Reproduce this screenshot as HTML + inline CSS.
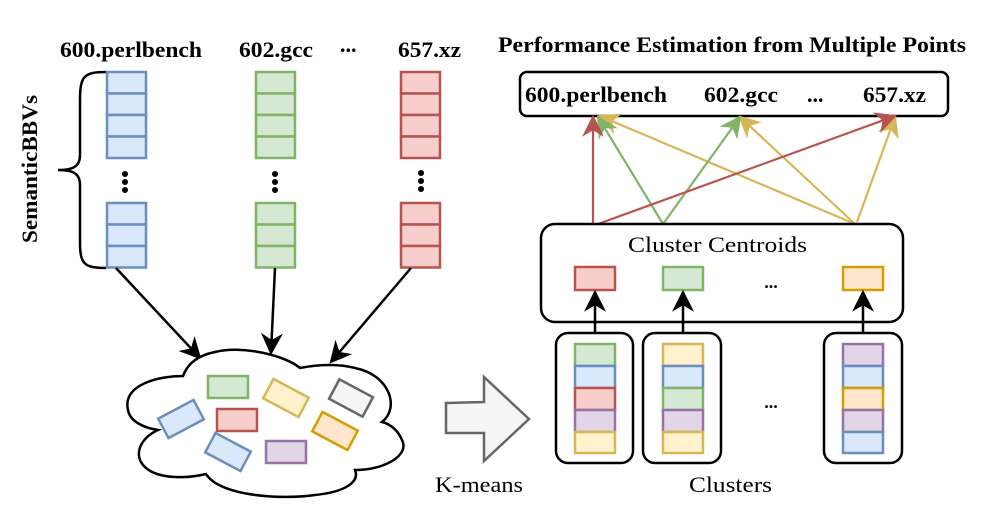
<!DOCTYPE html>
<html><head><meta charset="utf-8"><style>
html,body{margin:0;padding:0;background:#fff}
svg{display:block}
text{font-family:"Liberation Serif",serif;fill:#000}
.b{font-weight:bold;font-size:22px}
</style></head><body>
<svg width="996" height="516" viewBox="0 0 996 516" xmlns="http://www.w3.org/2000/svg">
<defs>
<marker id="akb" viewBox="0 0 10 10" markerWidth="22" markerHeight="22" refX="9" refY="5" orient="auto" markerUnits="userSpaceOnUse"><path d="M0,0 L10,5 L0,10 L3,5Z" fill="#000"/></marker>
<marker id="ar" viewBox="0 0 10 10" markerWidth="22" markerHeight="22" refX="9" refY="5" orient="auto" markerUnits="userSpaceOnUse"><path d="M0,0 L10,5 L0,10 L3,5Z" fill="#b85450"/></marker>
<marker id="ag" viewBox="0 0 10 10" markerWidth="22" markerHeight="22" refX="9" refY="5" orient="auto" markerUnits="userSpaceOnUse"><path d="M0,0 L10,5 L0,10 L3,5Z" fill="#82b366"/></marker>
<marker id="ay" viewBox="0 0 10 10" markerWidth="22" markerHeight="22" refX="9" refY="5" orient="auto" markerUnits="userSpaceOnUse"><path d="M0,0 L10,5 L0,10 L3,5Z" fill="#d6b656"/></marker>
</defs>

<!-- left labels -->
<text x="60" y="57" class="b" textLength="142" lengthAdjust="spacingAndGlyphs">600.perlbench</text>
<text x="239" y="57" class="b" textLength="74" lengthAdjust="spacingAndGlyphs">602.gcc</text>
<text x="340" y="52" class="b">...</text>
<text x="398" y="57" class="b" textLength="63" lengthAdjust="spacingAndGlyphs">657.xz</text>
<text transform="translate(37,169) rotate(-90)" text-anchor="middle" style="font-weight:bold;font-size:22px" textLength="148" lengthAdjust="spacingAndGlyphs">SemanticBBVs</text>
<path d="M106,72 C84,72 80,76 80,100 L80,155 C80,166 74,170 58,170 C74,170 80,174 80,185 L80,242 C80,264 84,268 106,268" fill="none" stroke="#000" stroke-width="2.5"/>

<g stroke-width="2.5">
<g fill="#dae8fc" stroke="#6c8ebf">
<rect x="107" y="72" width="39" height="21.5"/><rect x="107" y="93.5" width="39" height="21.5"/><rect x="107" y="115" width="39" height="21.5"/><rect x="107" y="136.5" width="39" height="21.5"/>
<rect x="107" y="203" width="39" height="21.5"/><rect x="107" y="224.5" width="39" height="21.5"/><rect x="107" y="246" width="39" height="21.5"/>
</g>
<g fill="#d5e8d4" stroke="#82b366">
<rect x="256" y="72" width="39" height="21.5"/><rect x="256" y="93.5" width="39" height="21.5"/><rect x="256" y="115" width="39" height="21.5"/><rect x="256" y="136.5" width="39" height="21.5"/>
<rect x="256" y="203" width="39" height="21.5"/><rect x="256" y="224.5" width="39" height="21.5"/><rect x="256" y="246" width="39" height="21.5"/>
</g>
<g fill="#f8cecc" stroke="#b85450">
<rect x="401" y="72" width="39" height="21.5"/><rect x="401" y="93.5" width="39" height="21.5"/><rect x="401" y="115" width="39" height="21.5"/><rect x="401" y="136.5" width="39" height="21.5"/>
<rect x="401" y="203" width="39" height="21.5"/><rect x="401" y="224.5" width="39" height="21.5"/><rect x="401" y="246" width="39" height="21.5"/>
</g>
</g>
<g fill="#000">
<circle cx="125" cy="174" r="3"/><circle cx="125" cy="182" r="3"/><circle cx="125" cy="190" r="3"/>
<circle cx="275" cy="174" r="3"/><circle cx="275" cy="182" r="3"/><circle cx="275" cy="190" r="3"/>
<circle cx="421" cy="173" r="3"/><circle cx="421" cy="181" r="3"/><circle cx="421" cy="189" r="3"/>
</g>

<g stroke="#000" stroke-width="2.5">
<line x1="116" y1="268" x2="200" y2="358" marker-end="url(#akb)"/>
<line x1="275" y1="268" x2="271" y2="353" marker-end="url(#akb)"/>
<line x1="411" y1="268" x2="331" y2="362" marker-end="url(#akb)"/>
</g>

<path d="M183,376 C160,376 122,384 128,410 C130,422 145,428 158,430 C140,438 132,456 146,468 C160,480 190,478 206,474 C220,496 280,500 315,495 C345,492 360,482 355,470 C385,470 410,455 402,440 C398,430 390,424 382,422 C400,408 390,375 355,368 C340,364 320,364 300,368 C285,355 240,345 215,352 C200,355 188,362 183,376 Z" fill="#fff" stroke="#000" stroke-width="2.5"/>

<g stroke-width="2.5">
<rect x="208" y="376" width="40" height="22" fill="#d5e8d4" stroke="#82b366"/>
<rect x="217" y="409" width="40" height="22" fill="#f8cecc" stroke="#b85450"/>
<rect x="266" y="441" width="40" height="22" fill="#e1d5e7" stroke="#9673a6"/>
<rect x="-20" y="-11" width="40" height="22" fill="#fff2cc" stroke="#d6b656" transform="translate(286,398) rotate(28)"/>
<rect x="-19" y="-11" width="38" height="22" fill="#f5f5f5" stroke="#666" transform="translate(351,398) rotate(28)"/>
<rect x="-20" y="-11" width="40" height="22" fill="#dae8fc" stroke="#6c8ebf" transform="translate(181,419) rotate(-28)"/>
<rect x="-20" y="-11" width="40" height="22" fill="#ffe6cc" stroke="#d79b00" transform="translate(335,431) rotate(28)"/>
<rect x="-20" y="-11" width="40" height="22" fill="#dae8fc" stroke="#6c8ebf" transform="translate(228,452) rotate(28)"/>
</g>

<path d="M446,403 L484,402 L484,377 L529,419 L484,461 L484,433 L446,433 Z" fill="#f5f5f5" stroke="#666" stroke-width="2.5"/>
<text x="435" y="492" style="font-size:22px" textLength="88" lengthAdjust="spacingAndGlyphs">K-means</text>

<text x="498" y="52" class="b" textLength="468" lengthAdjust="spacingAndGlyphs">Performance Estimation from Multiple Points</text>
<rect x="520" y="72" width="428" height="44" rx="7" fill="#fff" stroke="#000" stroke-width="2.5"/>
<text x="525" y="102" class="b" textLength="142" lengthAdjust="spacingAndGlyphs">600.perlbench</text>
<text x="704" y="102" class="b" textLength="74" lengthAdjust="spacingAndGlyphs">602.gcc</text>
<text x="807" y="102" class="b">...</text>
<text x="863" y="102" class="b" textLength="63" lengthAdjust="spacingAndGlyphs">657.xz</text>

<g stroke-width="2.2" fill="none">
<line x1="855" y1="224" x2="600" y2="116" stroke="#d6b656" marker-end="url(#ay)"/>
<line x1="855" y1="224" x2="740" y2="117" stroke="#d6b656" marker-end="url(#ay)"/>
<line x1="857" y1="222" x2="895" y2="117" stroke="#d6b656" marker-end="url(#ay)"/>
<line x1="663" y1="224" x2="598" y2="117" stroke="#82b366" marker-end="url(#ag)"/>
<line x1="663" y1="224" x2="740" y2="117" stroke="#82b366" marker-end="url(#ag)"/>
<line x1="593" y1="224" x2="593" y2="117" stroke="#b85450" marker-end="url(#ar)"/>
<line x1="598" y1="224" x2="895" y2="116" stroke="#b85450" marker-end="url(#ar)"/>
</g>

<rect x="541" y="224" width="362" height="98" rx="14" fill="#fff" stroke="#000" stroke-width="2.5"/>
<text x="628" y="252" style="font-size:22px" textLength="179" lengthAdjust="spacingAndGlyphs">Cluster Centroids</text>
<g stroke-width="2.5">
<rect x="575" y="267" width="40" height="23" fill="#f8cecc" stroke="#b85450"/>
<rect x="663" y="267" width="40" height="23" fill="#d5e8d4" stroke="#82b366"/>
<rect x="843" y="267" width="40" height="23" fill="#ffe6cc" stroke="#d79b00"/>
</g>
<text x="771" y="288" text-anchor="middle" style="font-size:18px;font-weight:bold">...</text>

<g stroke="#000" stroke-width="2.5" fill="#fff">
<rect x="556" y="333" width="77" height="130" rx="12"/>
<rect x="643" y="333" width="78" height="130" rx="12"/>
<rect x="824" y="333" width="78" height="130" rx="12"/>
</g>
<g stroke="#000" stroke-width="2.5">
<line x1="595" y1="333" x2="595" y2="292" marker-end="url(#akb)"/>
<line x1="683" y1="333" x2="683" y2="292" marker-end="url(#akb)"/>
<line x1="863" y1="333" x2="863" y2="292" marker-end="url(#akb)"/>
</g>
<g stroke-width="2.5">
<rect x="575" y="344" width="40" height="22" fill="#d5e8d4" stroke="#82b366"/>
<rect x="575" y="366" width="40" height="22" fill="#dae8fc" stroke="#6c8ebf"/>
<rect x="575" y="388" width="40" height="22" fill="#f8cecc" stroke="#b85450"/>
<rect x="575" y="410" width="40" height="22" fill="#e1d5e7" stroke="#9673a6"/>
<rect x="575" y="432" width="40" height="21" fill="#fff2cc" stroke="#d6b656"/>

<rect x="663" y="344" width="40" height="22" fill="#fff2cc" stroke="#d6b656"/>
<rect x="663" y="366" width="40" height="22" fill="#dae8fc" stroke="#6c8ebf"/>
<rect x="663" y="388" width="40" height="22" fill="#d5e8d4" stroke="#82b366"/>
<rect x="663" y="410" width="40" height="22" fill="#e1d5e7" stroke="#9673a6"/>
<rect x="663" y="432" width="40" height="21" fill="#fff2cc" stroke="#d6b656"/>

<rect x="843" y="344" width="40" height="22" fill="#e1d5e7" stroke="#9673a6"/>
<rect x="843" y="366" width="40" height="22" fill="#dae8fc" stroke="#6c8ebf"/>
<rect x="843" y="388" width="40" height="22" fill="#ffe6cc" stroke="#d79b00"/>
<rect x="843" y="410" width="40" height="22" fill="#e1d5e7" stroke="#9673a6"/>
<rect x="843" y="432" width="40" height="21" fill="#dae8fc" stroke="#6c8ebf"/>
</g>
<text x="771" y="408" text-anchor="middle" style="font-size:18px;font-weight:bold">...</text>
<text x="689" y="492" style="font-size:22px" textLength="83" lengthAdjust="spacingAndGlyphs">Clusters</text>
</svg>
</body></html>
